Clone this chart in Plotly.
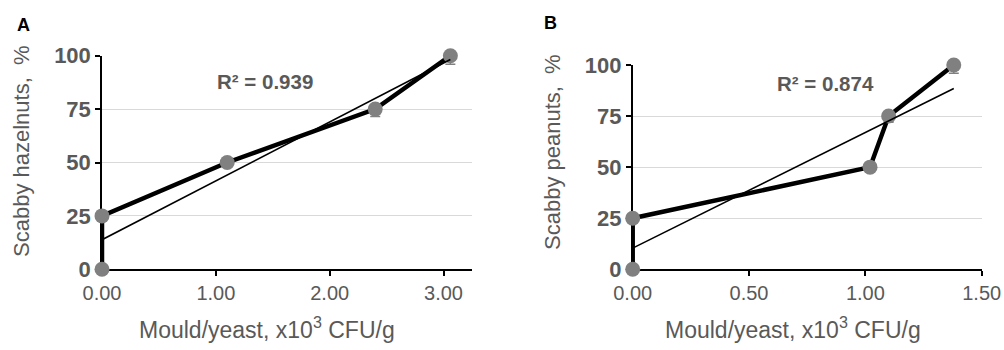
import numpy as np
import plotly.graph_objects as go

# ---- data ----
a_x = [0.0, 0.0, 1.1, 2.4, 3.06]
a_y = [0, 25, 50, 75, 100]
a_err = [0, 0, 0, 3.5, 4]
b_x = [0.0, 0.0, 1.02, 1.1, 1.38]
b_y = [0, 25, 50, 75, 100]
b_err = [0, 0, 0, 3, 4]
y_ticks = [0, 25, 50, 75, 100]
a_xticks = [0, 1, 2, 3]
a_xlabels = ["0.00", "1.00", "2.00", "3.00"]
b_xticks = [0, 0.5, 1.0, 1.5]
b_xlabels = ["0.00", "0.50", "1.00", "1.50"]

W, H = 1004, 350
FONT = "Liberation Sans, Arial, sans-serif"
GREY = "#595959"


def fit(x, y):
    x = np.array(x); y = np.array(y, dtype=float)
    m, c = np.polyfit(x, y, 1)
    pred = m * x + c
    r2 = 1 - ((y - pred) ** 2).sum() / ((y - y.mean()) ** 2).sum()
    return m, c, r2


fig = go.Figure()


def add_panel(x, y, err, xa, ya):
    fig.add_trace(go.Scatter(
        x=x, y=y, mode="lines+markers", xaxis=xa, yaxis=ya,
        line=dict(color="black", width=4.5),
        marker=dict(color="#808080", size=15, line=dict(width=0)),
        error_y=dict(type="data", symmetric=False, array=[0] * len(err),
                     arrayminus=err, color="#808080", thickness=1.5, width=5),
        cliponaxis=False, showlegend=False))
    m, c, r2 = fit(x, y)
    xs = [min(x), max(x)]
    fig.add_trace(go.Scatter(
        x=xs, y=[m * v + c for v in xs], mode="lines", xaxis=xa, yaxis=ya,
        line=dict(color="black", width=1.6), cliponaxis=False,
        showlegend=False, hoverinfo="skip"))
    return r2


r2a = add_panel(a_x, a_y, a_err, "x", "y")
r2b = add_panel(b_x, b_y, b_err, "x2", "y2")

y0 = (H - 269.3) / H
axis_common = dict(showline=True, linecolor="black", linewidth=1.5,
                   ticks="outside", ticklen=5, tickcolor="black", tickwidth=1.5,
                   zeroline=False, automargin=False, layer="below traces")
xtick_font = dict(size=20, color=GREY)
ytick_font = dict(size=22, color=GREY, weight="bold")

fig.update_layout(
    width=W, height=H, margin=dict(l=0, r=0, t=0, b=0, autoexpand=False),
    paper_bgcolor="white", plot_bgcolor="white",
    font=dict(family=FONT, color=GREY),
    xaxis=dict(domain=[102 / W, 472 / W], range=[0, 3.25], anchor="y",
               tickvals=a_xticks, ticktext=a_xlabels, showgrid=False,
               tickfont=xtick_font, **axis_common),
    yaxis=dict(domain=[y0, (H - 55.7) / H], range=[0, 100], anchor="x",
               tickvals=y_ticks, showgrid=True, gridcolor="#d9d9d9", gridwidth=1,
               tickfont=ytick_font, **axis_common),
    xaxis2=dict(domain=[632.7 / W, 981.7 / W], range=[0, 1.5], anchor="y2",
                tickvals=b_xticks, ticktext=b_xlabels, showgrid=False,
                tickfont=xtick_font, **axis_common),
    yaxis2=dict(domain=[y0, (H - 65) / H], range=[0, 100], anchor="x2",
                tickvals=y_ticks, showgrid=True, gridcolor="#d9d9d9", gridwidth=1,
                tickfont=ytick_font, **axis_common),
)


def pa(text, px, py, size, color=GREY, angle=0):
    return dict(text=text, x=px / W, y=(H - py) / H, xref="paper", yref="paper",
                xanchor="center", yanchor="middle", showarrow=False, textangle=angle,
                font=dict(size=size, color=color))


ann = []
ann.append(pa("<b>A</b>", 23, 25, 18, "black"))
ann.append(pa("<b>B</b>", 550, 23, 18, "black"))
xt = "Mould/yeast, x10<sup>3</sup> CFU/g"
ann.append(pa(xt, 267, 328, 23))
ann.append(pa(xt, 793, 328, 23))
ann.append(pa("Scabby hazelnuts,  %", 22, 151, 22, angle=-90))
ann.append(pa("Scabby peanuts,  %", 552, 152, 22, angle=-90))
# R^2 labels
ann.append(dict(text="<b>R² = %.3f</b>" % r2a, x=1.43, y=88, xref="x", yref="y",
                xanchor="center", yanchor="middle",
                showarrow=False, font=dict(size=20.5, color=GREY)))
ann.append(dict(text="<b>R² = %.3f</b>" % r2b, x=0.83, y=91, xref="x2", yref="y2",
                xanchor="center", yanchor="middle",
                showarrow=False, font=dict(size=20.5, color=GREY)))
fig.update_layout(annotations=ann)

fig.write_html("out.html", config={"displayModeBar": False},
               post_script="document.body.style.margin='0';document.body.style.overflow='hidden';")
